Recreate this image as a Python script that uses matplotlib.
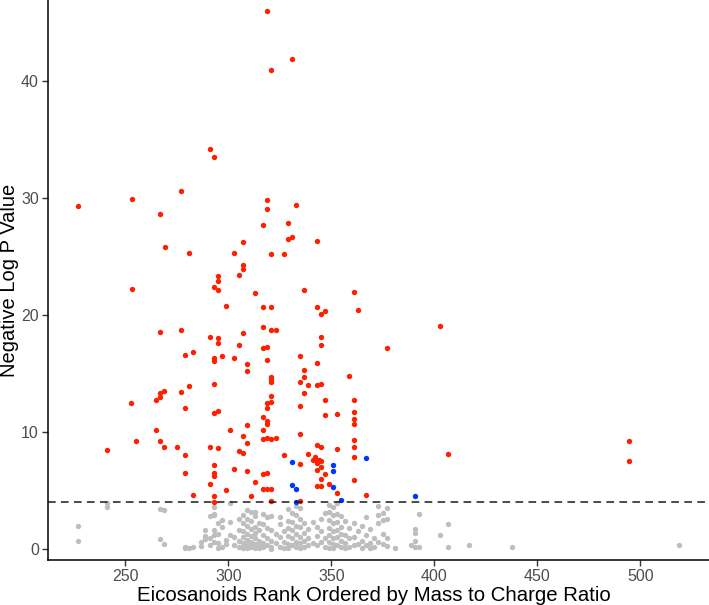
"""Volcano-style rank plot of eicosanoids, -log p against m/z rank"""

import matplotlib
matplotlib.use("Agg")
import matplotlib.pyplot as plt

plt.rcParams["font.family"] = ["Liberation Sans", "DejaVu Sans"]

# significant, up/down (red)
red_x = [227, 241, 253.1, 253.1, 252.9, 255, 264.9, 264.9, 266.8, 266.8, 268.9, 266.8,
         268.9, 266.9, 267, 269, 274.9, 276.9, 276.9, 276.9, 278.9, 278.9, 278.9, 278.9,
         280.9, 281, 283, 283, 291.1, 293, 290.9, 291, 291, 293, 293, 293, 293, 293, 293,
         293, 293, 293, 293, 295, 295, 295, 295, 295, 295, 295, 297, 298.8, 299, 300.9,
         302.9, 302.9, 302.9, 305, 305, 305, 306.9, 306.9, 306.9, 306.9, 306.9, 306.9,
         308.9, 308.9, 308.9, 308.9, 308.9, 311, 312.9, 312.9, 316.8, 316.8, 316.8, 316.8,
         316.8, 316.8, 316.8, 316.8, 316.8, 318.9, 318.9, 318.9, 320.8, 318.9, 318.9,
         318.9, 318.9, 318.9, 318.9, 318.9, 318.9, 318.9, 320.8, 320.8, 320.8, 320.8,
         320.8, 320.8, 320.8, 320.8, 320.8, 320.8, 320.8, 323, 323, 326.8, 326.8, 328.9,
         328.9, 330.9, 330.9, 333, 334.5, 334.5, 334.5, 334.5, 334.9, 334.9, 336.7, 336.8,
         336.8, 336.8, 338.8, 338.8, 340.9, 341.9, 342.9, 342.9, 342.9, 342.9, 342.9, 342.9,
         342.9, 342.9, 342.9, 343.9, 344.8, 344.8, 344.8, 344.8, 344.8, 344.8, 344.8,
         344.8, 344.8, 346.9, 346.9, 346.9, 346.9, 348.8, 352.8, 352.8, 352.8, 358.7,
         360.8, 360.8, 360.8, 360.8, 360.8, 360.8, 360.8, 360.8, 360.8, 362.8, 366.7,
         376.8, 402.7, 406.8, 494.5, 494.5]
red_y = [29.3, 8.5, 29.9, 22.2, 12.5, 9.2, 12.7, 10.2, 13.0, 13.3, 13.5, 9.2,
         8.7, 28.6, 18.55, 25.8, 8.7, 30.6, 18.7, 13.4, 16.6, 12.05, 8.0, 6.5,
         25.3, 13.9, 16.8, 4.6, 34.2, 33.5, 18.15, 8.75, 5.55, 22.4, 16.3, 16.1, 14.1, 11.6, 7.15,
         6.5, 6.25, 4.55, 4.0, 23.3, 22.9, 22.1, 18.06, 17.6, 11.8, 8.6, 16.5, 5.0, 20.8, 10.2,
         25.3, 16.3, 6.8, 23.4, 17.4, 8.4, 26.2, 24.3, 23.96, 18.46, 9.7, 8.2,
         15.8, 15.2, 10.6, 9.1, 6.7, 4.55, 21.85, 5.75, 27.7, 20.7, 19.0, 17.2,
         11.3, 10.2, 9.4, 6.4, 5.1, 45.98, 29.8, 29.1, 40.9, 17.3, 16.15,
         12.5, 12.08, 10.9, 10.7, 9.5, 6.5, 5.1, 25.2, 20.7, 18.7, 14.7,
         14.5, 14.3, 13.05, 12.56, 9.4, 5.1, 4.1, 18.7, 9.5, 25.2, 8.0, 27.9,
         26.5, 26.7, 41.9, 29.4, 14.25, 12.2, 9.8, 7.3, 16.5, 4.1, 22.1, 15.3,
         14.7, 13.3, 14.0, 8.1, 7.6, 7.85, 26.3, 20.7, 15.9, 14.0, 8.9, 7.6,
         7.35, 6.75, 5.4, 7.6, 20.1, 18.15, 17.4, 14.1, 8.7, 7.55, 7.0,
         6.0, 5.4, 20.3, 12.7, 11.45, 6.4, 5.55, 11.5, 8.55, 4.8, 14.8,
         21.95, 12.7, 11.7, 11.1, 10.7, 9.3, 8.7, 7.9, 5.9, 20.4, 4.65,
         17.15, 19.1, 8.1, 9.2, 7.5]

# significant, other group (blue)
blue_x = [330.8, 330.8, 332.8, 332.8, 350.8, 350.8, 350.8, 354.7, 366.7, 390.7]
blue_y = [7.4, 5.5, 5.1, 4.0, 7.2, 6.7, 5.3, 4.15, 7.8, 4.55]

# not significant (grey), grouped by rank column
grey_cols = {
    227: [1.95, 0.7],
    241: [3.95, 3.6],
    266.8: [3.4, 0.85],
    268.9: [3.35, 0.4],
    279: [0.15, 0.05],
    281: [0.1],
    283: [0.2],
    286.9: [0.25, 0.6],
    288.8: [1.6, 0.85, 1.1],
    290.9: [2.8, 0.3, 0.9],
    292.9: [3.6, 3.0, 2.9, 1.6, 1.2, 0.6],
    295: [2.2, 1.3, 0.5, 0.1],
    297: [2.5, 1.9, 0.2],
    298.8: [0.8, 0.4],
    300.9: [3.95, 1.2, 2.3],
    302.9: [0.35, 1.0],
    305: [1.6, 0.7, 0.2, 2.6],
    306.9: [2.2, 1.5, 1.0, 0.5, 0.1, 2.9],
    308.9: [3.3, 2.6, 2.0, 1.3, 0.8, 0.3, 0.05],
    311: [3.2, 2.4, 1.7, 1.1, 0.6, 0.2],
    312.9: [3.2, 2.8, 1.9, 1.4, 0.9, 0.4, 0.1],
    314.8: [2.2, 1.6, 0.7, 0.3, 0.05],
    316.8: [3.0, 2.1, 1.2, 0.5, 0.15],
    318.9: [2.7, 1.8, 0.9, 0.3],
    320.8: [2.8, 1.6, 0.7, 0.2, 0.0],
    323: [1.3, 0.5],
    325: [2.7, 2.1, 1.0, 0.2],
    326.8: [1.5, 0.6, 0.1],
    328.9: [3.4, 2.4, 1.8, 1.1, 0.4, 0.05],
    330.9: [3.1, 2.3, 1.6, 0.9, 0.3],
    332.8: [3.7, 2.9, 2.0, 1.3, 0.6, 0.15],
    334.9: [3.5, 2.6, 1.9, 1.0, 0.5, 0.1],
    336.8: [2.2, 1.4, 0.7, 0.2],
    338.8: [1.7, 0.9, 0.3],
    340.9: [2.3, 0.5],
    342.9: [1.9, 1.1, 0.3],
    344.8: [2.6, 1.5, 0.6],
    346.9: [3.1, 0.9, 0.2],
    348.8: [3.8, 3.2, 2.5, 1.8, 1.2, 0.6, 0.1],
    350.8: [3.6, 2.9, 2.2, 1.5, 0.9, 0.4, 0.05],
    352.8: [3.9, 3.0, 2.3, 1.6, 1.0, 0.3],
    354.7: [2.8, 1.9, 1.3, 0.7, 0.15],
    356.7: [2.4, 1.2, 0.5, 0.05],
    358.7: [1.8, 0.9, 0.2],
    360.8: [2.2, 1.0, 0.3],
    362.8: [1.5, 0.4],
    364.7: [2.0, 0.7, 0.1],
    366.7: [2.7, 1.2, 0.3],
    368.7: [1.7, 0.5, 0.1],
    370.7: [0.9, 0.2],
    372.8: [3.7, 2.9, 2.2, 0.6],
    375: [3.1, 2.5, 1.3, 0.4],
    376.9: [3.5, 2.6, 0.9, 0.26],
    380.7: [0.05],
    388.8: [0.35],
    390.7: [1.7, 1.35, 0.7, 0.15],
    392.6: [2.95, 0.15],
    402.7: [1.2],
    406.8: [2.1, 0.15],
    416.6: [0.3],
    437.7: [0.2],
    518.5: [0.3],
}
grey_x = [x for x, ys in grey_cols.items() for _ in ys]
grey_y = [y for ys in grey_cols.values() for y in ys]

threshold = 4.0

W, H = 709, 605
fig = plt.figure(figsize=(W / 100, H / 100), dpi=100)
ax = fig.add_axes([48 / W, 45 / H, 661 / W, 560 / H])

ax.scatter(grey_x, grey_y, s=15, color="#BEBEBE", linewidths=0, zorder=2)
ax.scatter(red_x, red_y, s=15, color="#FF2000", linewidths=0, zorder=3)
ax.scatter(blue_x, blue_y, s=15, color="#0036FF", linewidths=0, zorder=3)
ax.axhline(threshold, color="#1a1a1a", lw=1.1, ls=(0, (5, 3.5)), zorder=4)

ax.set_xlim(212.4, 533.3)
ax.set_ylim(-0.94, 46.92)
ax.set_xticks([250, 300, 350, 400, 450, 500])
ax.set_yticks([0, 10, 20, 30, 40])

for s in ["top", "right"]:
    ax.spines[s].set_visible(False)
for s in ["left", "bottom"]:
    ax.spines[s].set_linewidth(1.1)
    ax.spines[s].set_color("black")
ax.tick_params(length=4, width=1.0, color="#333333", labelcolor="#4D4D4D",
               labelsize=11.5, pad=2.5)

# axis titles placed in figure pixels so they stay inside the canvas
fig.text(374 / W, 4 / H, "Eicosanoids Rank Ordered by Mass to Charge Ratio",
         fontsize=14.7, ha="center", va="baseline", color="black")
fig.text(10 / W, (45 + 560 / 2) / H, "Negative Log P Value", fontsize=14.5,
         rotation=90, ha="center", va="center", color="black")

fig.savefig("out.png", dpi=100)
plt.close(fig)
